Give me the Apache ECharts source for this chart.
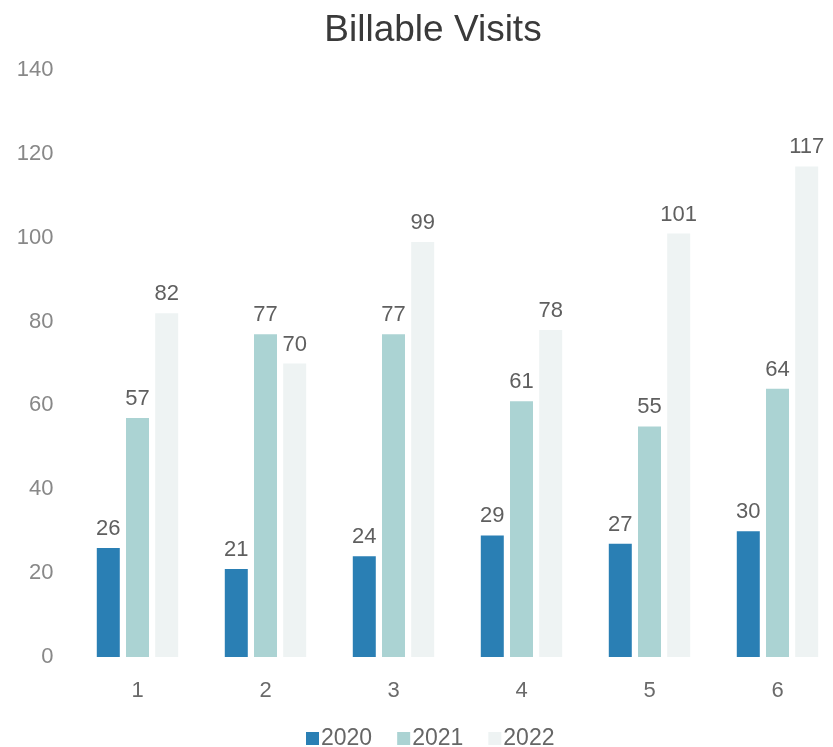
<!DOCTYPE html>
<html><head><meta charset="utf-8">
<script src="https://cdn.jsdelivr.net/npm/echarts@6/dist/echarts.min.js"></script>
<style>html,body{margin:0;padding:0;background:#fff;overflow:hidden;width:833px;height:747px}#c{width:866px;height:747px}</style>
</head><body><div id="c"></div>
<script>
const categories = ['1','2','3','4','5','6'];
const seriesNames = ['2020','2021','2022'];
const v2020 = [26,21,24,29,27,30];
const v2021 = [57,77,77,61,55,64];
const v2022 = [82,70,99,78,101,117];
const yTicks = [0,20,40,60,80,100,120,140];

const font = 'Liberation Sans, Arial, sans-serif';
const colors = ['#2a7fb4','#abd3d3','#eef3f3'];
const chart = echarts.init(document.getElementById('c'), null, {renderer:'canvas'});
const mk = (name, data, i) => ({
  name, type:'bar', data, barWidth:23, barGap:'27%',
  itemStyle:{color:colors[i]},
  label:{show:true, position:'top', distance:8, color:'#5f5f5f', fontSize:22, fontFamily:font}
});
chart.setOption({
  animation:false,
  backgroundColor:'#ffffff',
  title:{text:'Billable Visits', left:'center', top:7,
    textStyle:{fontSize:37, fontWeight:'normal', color:'#3a3a3a', fontFamily:font}},
  legend:{left:301, top:722, itemWidth:13, itemHeight:13, itemGap:25,
    icon:'rect', textStyle:{fontSize:23, color:'#666', fontFamily:font, padding:[0,0,0,-3]},
    data:seriesNames},
  grid:{left:73.5, width:768, top:70, height:587},
  xAxis:{type:'category', data:categories,
    axisLine:{show:false}, axisTick:{show:false},
    axisLabel:{fontSize:22, color:'#6a6a6a', margin:23, fontFamily:font}},
  yAxis:{type:'value', min:yTicks[0], max:yTicks[yTicks.length-1], interval:20,
    splitLine:{show:false}, axisLine:{show:false}, axisTick:{show:false},
    axisLabel:{fontSize:22, color:'#888', margin:20, fontFamily:font}},
  series:[mk(seriesNames[0], v2020, 0), mk(seriesNames[1], v2021, 1), mk(seriesNames[2], v2022, 2)]
});
</script></body></html>
